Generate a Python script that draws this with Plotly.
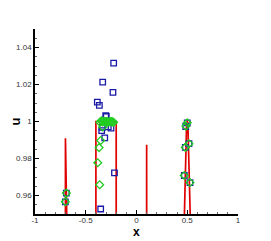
import plotly.graph_objects as go

# exact solution (red line)
exact_x = [-1.0, -0.705, -0.7, -0.695, -0.4, -0.4, -0.2, -0.2, 0.095, 0.1, 0.105,
           0.45, 0.471, 0.494, 0.5, 0.506, 0.529, 0.55, 1.0]
exact_y = [0.0, 0.0, 0.991, 0.0, 0.0, 1.0, 1.0, 0.0, 0.0, 0.9875, 0.0,
           0.9, 0.95, 0.9995, 1.0, 0.9995, 0.95, 0.9, 0.0]

# blue squares
sq_x = [-0.701, -0.691, -0.386, -0.366, -0.353, -0.343, -0.337, -0.333, -0.313,
        -0.303, -0.298, -0.278, -0.251, -0.232, -0.225, -0.217, 0.471, 0.481,
        0.485, 0.5, 0.517, 0.527]
sq_y = [0.9566, 0.9613, 1.0105, 1.0087, 0.9527, 0.9951, 0.9969, 1.0213, 0.9911,
        1.0032, 1.0027, 0.9971, 0.9964, 1.0157, 1.0316, 0.9722, 0.9708, 0.986,
        0.9973, 0.9993, 0.988, 0.967]

# green diamonds
dm_x = [-0.701, -0.691, -0.382, -0.369, -0.363, -0.353, -0.36, -0.347, -0.338,
        -0.333, -0.322, -0.31, -0.298, -0.285, -0.272, -0.26, -0.248,
        -0.236, -0.226, 0.471, 0.481, 0.487, 0.5, 0.517, 0.527]
dm_y = [0.9566, 0.9613, 0.9777, 0.9859, 0.9658, 0.9897, 0.9996, 1.0004, 0.9998,
        0.997, 1.0001, 1.0, 0.9999, 0.9998, 0.9997, 1.0, 0.9999,
        0.9998, 0.9996, 0.9708, 0.986, 0.9975, 0.9993, 0.988, 0.967]

x_ticks = [-1, -0.5, 0, 0.5, 1]
x_labels = ["-1", "-0.5", "0", "0.5", "1"]
y_ticks = [0.96, 0.98, 1.0, 1.02, 1.04]
y_labels = ["0.96", "0.98", "1", "1.02", "1.04"]

fig = go.Figure()
fig.add_trace(go.Scatter(x=exact_x, y=exact_y, mode="lines",
                         line=dict(color="#e00000", width=1.7), showlegend=False))
fig.add_trace(go.Scatter(x=sq_x, y=sq_y, mode="markers", showlegend=False,
                         marker=dict(symbol="square-open", size=5.5,
                                     color="#1a1aa8", line=dict(width=1.3, color="#1a1aa8"))))
fig.add_trace(go.Scatter(x=dm_x, y=dm_y, mode="markers", showlegend=False,
                         marker=dict(symbol="diamond-open", size=6,
                                     color="#22cc22", line=dict(width=1.3, color="#22cc22"))))

axis_common = dict(showgrid=False, zeroline=False, showline=True, linecolor="black",
                   linewidth=1.5, ticks="inside", ticklen=4, tickwidth=1, tickcolor="black",
                   automargin=False,
                   tickfont=dict(family="Liberation Sans, Arial", size=8, color="#333333"))

fig.update_layout(
    width=263, height=233,
    margin=dict(l=27, r=33, t=21, b=27),
    paper_bgcolor="white", plot_bgcolor="white",
    xaxis=dict(range=[-1, 1], tickvals=x_ticks, ticktext=x_labels,
               ticklabelstandoff=-2,
               minor=dict(dtick=0.1, ticks="inside", ticklen=2, tickcolor="#666666"),
               **axis_common),
    yaxis=dict(range=[0.95, 1.05], tickvals=y_ticks, ticktext=y_labels,
               title=dict(text="<b>u</b>", font=dict(family="Liberation Sans, Arial", size=13, color="black"),
                          standoff=4),
               minor=dict(dtick=0.005, ticks="inside", ticklen=2, tickcolor="#666666"),
               **axis_common),
    annotations=[dict(text="<b>x</b>", xref="paper", yref="paper", x=0.5, y=-0.095,
                      xanchor="center", yanchor="middle", showarrow=False,
                      font=dict(family="Liberation Sans, Arial", size=12, color="black"))],
)

fig.write_html("out.html")
